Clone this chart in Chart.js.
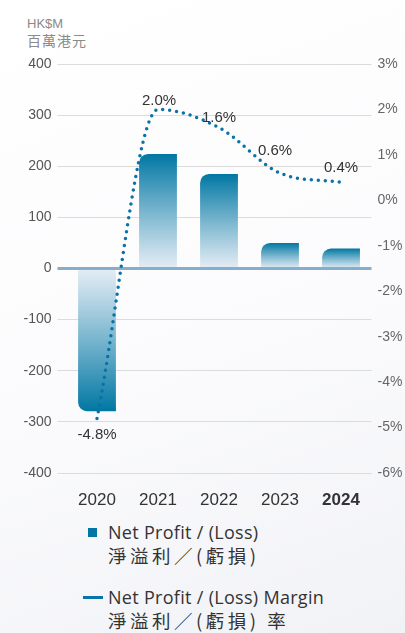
<!DOCTYPE html>
<html>
<head>
<meta charset="utf-8">
<script src="https://cdn.jsdelivr.net/npm/chart.js@4.4.1/dist/chart.umd.min.js"></script>
<style>
  html, body { margin: 0; padding: 0; }
  body {
    width: 405px; height: 633px; overflow: hidden; position: relative;
    background: linear-gradient(160deg, #ffffff 0%, #fbfbfd 55%, #f1f2f6 100%);
    font-family: "Open Sans", "Liberation Sans", Arial, "Noto Sans CJK TC", sans-serif;
  }
  #unit { position: absolute; left: 27px; top: 15px; color: #8a8a8a; font-size: 13px; line-height: 17px; font-family: "Liberation Sans", Arial, sans-serif; }
  #unit .zh { font-family: "Noto Sans CJK TC", sans-serif; font-size: 14px; letter-spacing: 1px; }
  #wrap { position: absolute; left: 0; top: 0; width: 405px; height: 510px; }
  .leg { position: absolute; color: #333; font-size: 18px; line-height: 23px; letter-spacing: 0.3px; white-space: nowrap; }
  .leg .zh { font-family: "Noto Sans CJK TC", sans-serif; font-size: 18.5px; letter-spacing: 3.5px; }
  .sq { position: absolute; left: 88px; top: 528px; width: 9px; height: 9px; background: #0077a3; }
  .ln { position: absolute; left: 83px; top: 596px; width: 20px; height: 3px; background: #0a74a8; }
</style>
</head>
<body>
<div id="unit">HK$M<br><span class="zh">百萬港元</span></div>
<div id="wrap"><canvas id="chart"></canvas></div>
<div class="sq"></div>
<div class="leg" style="left:108px; top:521px;">Net Profit / (Loss)<br><span class="zh">淨溢利／(虧損)</span></div>
<div class="ln"></div>
<div class="leg" style="left:108px; top:586px;">Net Profit / (Loss) Margin<br><span class="zh">淨溢利／(虧損) 率</span></div>
<script>
const years = ['2020', '2021', '2022', '2023', '2024'];
const netProfit = [-279, 224, 185, 50, 39];
const margin = [-4.8, 2.0, 1.6, 0.6, 0.4];
const marginLabels = ['-4.8%', '2.0%', '1.6%', '0.6%', '0.4%'];

const dark = '#0077a3';
const light = 'rgba(226,235,244,0.9)';
const sans = '"Liberation Sans", Arial, sans-serif';

function barColor(ctx) {
  const chart = ctx.chart;
  if (!chart.chartArea) return dark;
  const y = chart.scales.y;
  const yv = y.getPixelForValue(ctx.raw);
  const y0 = y.getPixelForValue(0);
  const g = chart.ctx.createLinearGradient(0, yv, 0, y0);
  g.addColorStop(0, dark);
  g.addColorStop(1, light);
  return g;
}

// value labels next to the margin points
const pointLabels = {
  id: 'pointLabels',
  afterDatasetsDraw(chart) {
    const meta = chart.getDatasetMeta(1);
    const c = chart.ctx;
    c.save();
    c.font = '15px ' + sans;
    c.fillStyle = '#333';
    c.textAlign = 'center';
    c.textBaseline = 'middle';
    const off = [[0, 16], [1, -9], [0, -10], [-5, -22], [0, -14]];
    meta.data.forEach((p, i) => {
      c.fillText(marginLabels[i], p.x + off[i][0], p.y + off[i][1]);
    });
    c.restore();
  }
};

new Chart(document.getElementById('chart'), {
  data: {
    labels: years,
    datasets: [{
      type: 'bar',
      label: 'Net Profit / (Loss)',
      data: netProfit,
      yAxisID: 'y',
      backgroundColor: barColor,
      borderRadius: ctx => ctx.raw < 0 ? {bottomLeft: 9} : {topLeft: 9},
      borderSkipped: 'start',
      barPercentage: 0.62,
      categoryPercentage: 1,
      order: 2
    }, {
      type: 'line',
      label: 'Net Profit / (Loss) Margin',
      data: margin,
      yAxisID: 'y2',
      borderColor: '#0a72a6',
      borderWidth: 3.5,
      borderDash: [0, 7],
      borderCapStyle: 'round',
      cubicInterpolationMode: 'monotone',
      pointRadius: 0,
      fill: false,
      order: 1
    }]
  },
  options: {
    responsive: true,
    maintainAspectRatio: false,
    animation: false,
    layout: { padding: { top: 64, bottom: 0, left: 0, right: 0 } },
    plugins: { legend: { display: false }, tooltip: { enabled: false } },
    scales: {
      x: {
        grid: { display: false },
        border: { display: false },
        ticks: {
          padding: 9,
          color: '#333',
          font: ctx => ({ size: 17, family: sans, weight: ctx.index === 4 ? 'bold' : 'normal' })
        },
        afterFit: s => { s.height = 37; }
      },
      y: {
        position: 'left',
        min: -400, max: 400,
        ticks: { stepSize: 100, padding: 6, color: '#555', font: { size: 14, family: sans } },
        grid: {
          color: ctx => ctx.tick && ctx.tick.value === 0 ? '#84aecb' : '#dcdcdc',
          lineWidth: ctx => ctx.tick && ctx.tick.value === 0 ? 3 : 1,
          tickColor: ctx => ctx.tick && ctx.tick.value === 0 ? '#84aecb' : '#dcdcdc',
          tickLength: 9
        },
        border: { display: false },
        afterFit: s => { s.width = 66.5; }
      },
      y2: {
        position: 'right',
        min: -6, max: 3,
        ticks: { stepSize: 1, padding: 6, color: '#666', font: { size: 14, family: sans }, callback: v => v + '%' },
        grid: { drawOnChartArea: false, drawTicks: false },
        border: { display: false },
        afterFit: s => { s.width = 33.5; }
      }
    }
  },
  plugins: [pointLabels]
});
</script>
</body>
</html>
